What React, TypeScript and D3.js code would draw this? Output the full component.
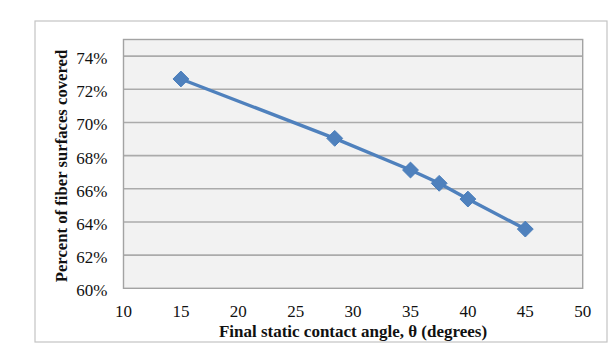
import { useEffect, useRef } from 'react'
import * as d3 from 'd3'

const angles = [15, 28.4, 35, 37.5, 40, 45]
const coverage = [0.7262, 0.6904, 0.6713, 0.6633, 0.6538, 0.6357]
const xTicks = [10, 15, 20, 25, 30, 35, 40, 45, 50]
const yTicks = [0.6, 0.62, 0.64, 0.66, 0.68, 0.7, 0.72, 0.74]

const xTitle = 'Final static contact angle, θ (degrees)'
const yTitle = 'Percent of fiber surfaces covered'

export default function App() {
  const svgRef = useRef<SVGSVGElement>(null)
  const width = 615
  const height = 351

  useEffect(() => {
    if (!svgRef.current) return
    const svg = d3.select(svgRef.current)
    svg.selectAll('*').remove()

    const margin = { top: 39.5, right: 32.3, bottom: 62.7, left: 123.5 }
    const innerWidth = width - margin.left - margin.right
    const innerHeight = height - margin.top - margin.bottom
    const font = "'Liberation Serif', 'DejaVu Serif', serif"

    // outer chart frame
    svg
      .append('rect')
      .attr('x', 35)
      .attr('y', 21)
      .attr('width', 572)
      .attr('height', 321)
      .attr('fill', 'white')
      .attr('stroke', '#c4c4c4')
      .attr('stroke-width', 1.2)

    const g = svg
      .append('g')
      .attr('transform', `translate(${margin.left},${margin.top})`)

    const xScale = d3.scaleLinear().domain([10, 50]).range([0, innerWidth])
    const yScale = d3.scaleLinear().domain([0.6, 0.75]).range([innerHeight, 0])

    // plot background
    g.append('rect')
      .attr('width', innerWidth)
      .attr('height', innerHeight)
      .attr('fill', '#f2f2f2')

    // horizontal grid lines
    g.append('g')
      .selectAll('line')
      .data(yTicks.slice(1))
      .enter()
      .append('line')
      .attr('x1', 0)
      .attr('x2', innerWidth)
      .attr('y1', (d) => yScale(d))
      .attr('y2', (d) => yScale(d))
      .attr('stroke', '#ababab')
      .attr('stroke-width', 1.6)

    // plot border
    g.append('rect')
      .attr('width', innerWidth)
      .attr('height', innerHeight)
      .attr('fill', 'none')
      .attr('stroke', '#a3a3a3')
      .attr('stroke-width', 1.4)

    // y tick labels
    g.append('g')
      .selectAll('text')
      .data(yTicks)
      .enter()
      .append('text')
      .attr('x', -16)
      .attr('y', (d) => yScale(d) + 4)
      .attr('text-anchor', 'end')
      .attr('dominant-baseline', 'middle')
      .style('font-family', font)
      .style('font-size', '17px')
      .attr('fill', '#111')
      .text((d) => d3.format('.0%')(d))

    // x tick labels
    g.append('g')
      .selectAll('text')
      .data(xTicks)
      .enter()
      .append('text')
      .attr('x', (d) => xScale(d))
      .attr('y', innerHeight + 29)
      .attr('text-anchor', 'middle')
      .style('font-family', font)
      .style('font-size', '17px')
      .attr('fill', '#111')
      .text((d) => d)

    // axis titles
    svg
      .append('text')
      .attr('x', 353)
      .attr('y', 337)
      .attr('text-anchor', 'middle')
      .style('font-family', font)
      .style('font-size', '17px')
      .style('font-weight', 'bold')
      .attr('fill', '#111')
      .text(xTitle)

    svg
      .append('text')
      .attr('transform', 'translate(67,166) rotate(-90)')
      .attr('text-anchor', 'middle')
      .style('font-family', font)
      .style('font-size', '16.7px')
      .style('font-weight', 'bold')
      .attr('fill', '#111')
      .text(yTitle)

    const points = angles.map((a, i) => ({ x: a, y: coverage[i] }))

    // series line
    const line = d3
      .line<{ x: number; y: number }>()
      .x((d) => xScale(d.x))
      .y((d) => yScale(d.y))

    g.append('path')
      .datum(points)
      .attr('d', line)
      .attr('fill', 'none')
      .attr('stroke', '#4f81bd')
      .attr('stroke-width', 3.4)
      .attr('stroke-linejoin', 'round')

    // diamond markers
    const diamond = d3.symbol().type(d3.symbolDiamond2).size(160)
    g.append('g')
      .selectAll('path')
      .data(points)
      .enter()
      .append('path')
      .attr('d', diamond)
      .attr('transform', (d) => `translate(${xScale(d.x)},${yScale(d.y)})`)
      .attr('fill', '#4f81bd')
      .attr('stroke', '#4a7ebb')
      .attr('stroke-width', 1)
  }, [])

  return (
    <svg
      ref={svgRef}
      width={width}
      height={height}
      style={{ position: 'absolute', left: 0, top: 0, background: 'white' }}
    />
  )
}
